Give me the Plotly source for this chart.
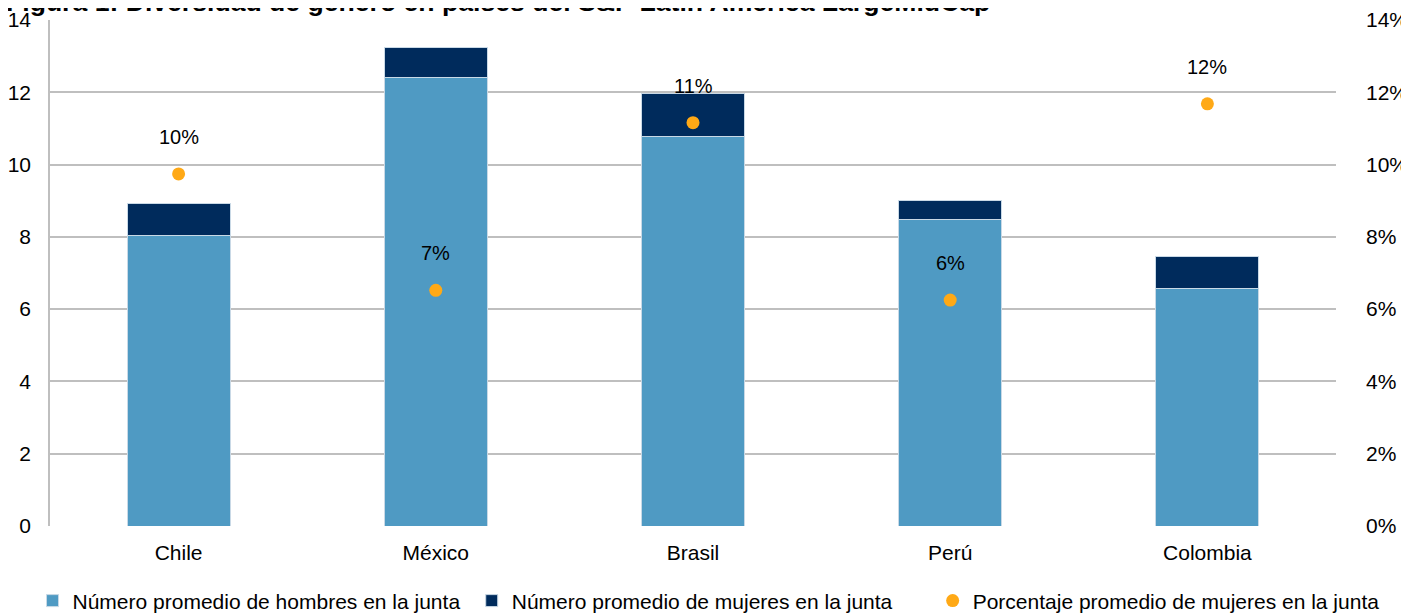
import plotly.graph_objects as go

categories = ["Chile", "México", "Brasil", "Perú", "Colombia"]
hombres = [8.05, 12.40, 10.79, 8.49, 6.56]
mujeres = [0.86, 0.83, 1.18, 0.51, 0.89]
porcentaje = [0.0974, 0.0652, 0.1116, 0.0625, 0.1168]
left_ticks = [0, 2, 4, 6, 8, 10, 12, 14]
right_ticks = [0, 0.02, 0.04, 0.06, 0.08, 0.10, 0.12, 0.14]

FONT = "Liberation Sans, Arial, sans-serif"

# The page body has an 8px default margin, so the figure is sized to fit the window.
W, H = 1401, 606

fig = go.Figure()
fig.add_trace(go.Bar(
    x=categories, y=hombres, name="Número promedio de hombres en la junta",
    marker=dict(color="#4F9AC3", line=dict(color="#C9D9E6", width=1)),
    width=0.4, yaxis="y", legend="legend",
))
fig.add_trace(go.Bar(
    x=categories, y=mujeres, name="Número promedio de mujeres en la junta",
    marker=dict(color="#002B5C", line=dict(color="#C9D9E6", width=1)),
    width=0.4, yaxis="y", legend="legend2",
))
fig.add_trace(go.Scatter(
    x=categories, y=porcentaje, name="Porcentaje promedio de mujeres en la junta",
    mode="markers", marker=dict(color="#FFA916", size=13),
    yaxis="y2", legend="legend3",
))

for c, p in zip(categories, porcentaje):
    fig.add_annotation(
        x=c, y=p, xref="x", yref="y2", text=f"{p:.0%}", showarrow=False,
        yshift=37, font=dict(family=FONT, size=20, color="#000000"),
    )

fig.add_annotation(
    x=0, y=1, xref="paper", yref="paper", xanchor="left", yanchor="bottom",
    text="<b>Figura 1: Diversidad de género en países del S&P Latin America LargeMidCap</b>",
    showarrow=False, yshift=1, xshift=-46,
    font=dict(family=FONT, size=26.6, color="#000000"),
)

legend_common = dict(
    orientation="h", xref="container", yref="container",
    xanchor="left", y=0.0215, yanchor="middle",
    font=dict(family=FONT, size=21, color="#000000"),
    itemwidth=30, bgcolor="rgba(0,0,0,0)",
)

fig.update_layout(
    barmode="stack",
    width=W, height=H,
    margin=dict(l=42, r=73, t=12, b=88),
    paper_bgcolor="white", plot_bgcolor="white",
    font=dict(family=FONT, size=20, color="#000000"),
    showlegend=True,
    legend=dict(x=0.0175, **legend_common),
    legend2=dict(x=0.331, **legend_common),
    legend3=dict(x=0.660, **legend_common),
    xaxis=dict(
        type="category", showgrid=False, showline=False, ticks="",
        tickfont=dict(family=FONT, size=21), range=[-0.5, 4.5],
        ticklabelstandoff=12, automargin=False,
    ),
    yaxis=dict(
        range=[0, 14], tickvals=left_ticks, showgrid=True, gridcolor="#BFBFBF",
        gridwidth=1.5, zeroline=False, showline=True, linecolor="#BFBFBF",
        linewidth=1.5, ticks="",
        tickfont=dict(family=FONT, size=21), ticklabelstandoff=13,
        automargin=False,
    ),
    yaxis2=dict(
        range=[0, 0.14], tickvals=right_ticks, tickformat=".0%", overlaying="y",
        side="right", showgrid=False, zeroline=False, showline=False, ticks="",
        tickfont=dict(family=FONT, size=21), ticklabelstandoff=29,
        automargin=False,
    ),
)

fig.write_html("out.html")
